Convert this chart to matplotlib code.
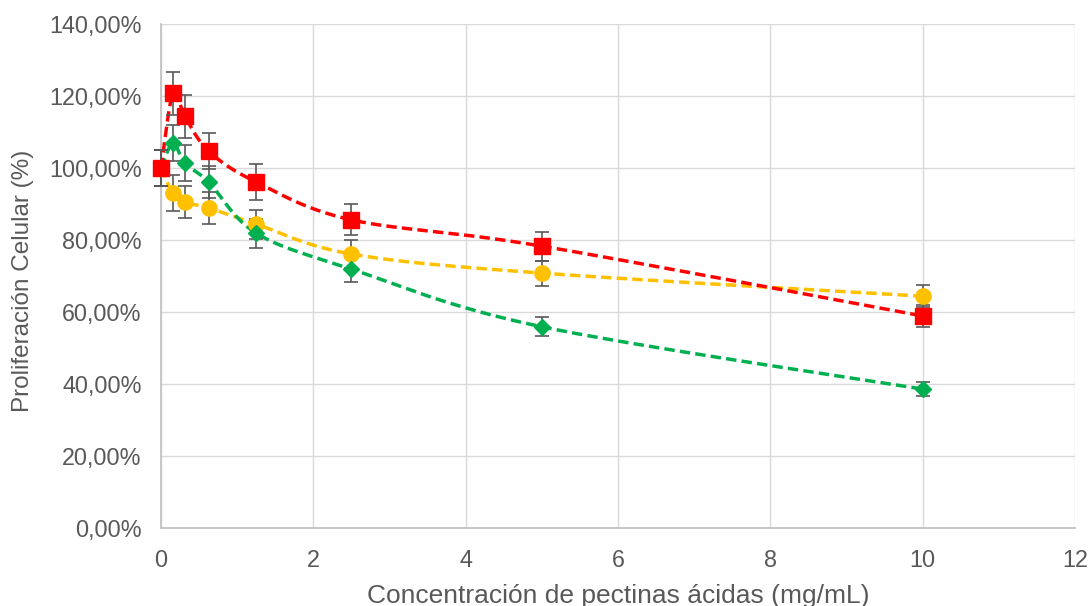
import matplotlib
matplotlib.use("Agg")
from matplotlib import pyplot as plt
from matplotlib.ticker import FuncFormatter
import numpy as np

plt.rcParams['font.family'] = ['Liberation Sans', 'DejaVu Sans']

conc = [0, 0.156, 0.3125, 0.625, 1.25, 2.5, 5, 10]

red_vals = [100.0, 120.8, 114.4, 104.7, 96.1, 85.6, 78.3, 58.9]
red_err = [5.0, 6.0, 6.0, 5.0, 5.0, 4.3, 4.0, 3.0]

yellow_vals = [100.0, 93.0, 90.5, 88.9, 84.4, 76.1, 70.8, 64.4]
yellow_err = [5.0, 5.0, 4.5, 4.5, 4.0, 3.8, 3.5, 3.0]

green_vals = [100.0, 106.9, 101.4, 96.1, 81.9, 71.9, 55.9, 38.6]
green_err = [5.0, 5.0, 5.0, 4.5, 4.0, 3.5, 2.7, 2.0]


def smooth(x, y, n=30):
    # bezier segments like excel's "smoothed line" (control points from neighbours / 6)
    x = np.asarray(x, float)
    y = np.asarray(y, float)
    px = np.concatenate([[x[0]], x, [x[-1]]])
    py = np.concatenate([[y[0]], y, [y[-1]]])
    xs, ys = [], []
    t = np.linspace(0, 1, n)
    for i in range(1, len(px) - 2):
        p0 = np.array([px[i], py[i]])
        p3 = np.array([px[i + 1], py[i + 1]])
        c1 = p0 + (p3 - np.array([px[i - 1], py[i - 1]])) / 6
        c2 = p3 - (np.array([px[i + 2], py[i + 2]]) - p0) / 6
        pts = ((1 - t) ** 3)[:, None] * p0 + (3 * (1 - t) ** 2 * t)[:, None] * c1 \
            + (3 * (1 - t) * t ** 2)[:, None] * c2 + (t ** 3)[:, None] * p3
        xs.extend(pts[:, 0])
        ys.extend(pts[:, 1])
    return np.array(xs), np.array(ys)


fig = plt.figure(figsize=(10.91, 6.06), dpi=100)
ax = fig.add_axes([0.1476, 0.1287, 0.8377, 0.8317])

series = [
    (yellow_vals, yellow_err, '#FFC000', 'o', 11),
    (green_vals, green_err, '#00B050', 'D', 8.5),
    (red_vals, red_err, '#FF0000', 's', 11),
]

for vals, err, col, mk, ms in series:
    sx, sy = smooth(conc, vals)
    ax.plot(sx, sy, color=col, lw=2.5, linestyle=(0, (3, 1.5)), zorder=2, clip_on=False)
    eb = ax.errorbar(conc, vals, yerr=err, fmt='none', ecolor='#595959',
                     elinewidth=1.2, capsize=5, capthick=1.2, zorder=3)
    for art in eb.lines[1] + eb.lines[2]:
        art.set_clip_on(False)
    ax.plot(conc, vals, linestyle='none', marker=mk, markersize=ms,
            color=col, markeredgecolor=col, zorder=4, clip_on=False)

ax.set_xlim(0, 12)
ax.set_ylim(0, 140)
ax.set_xticks(range(0, 13, 2))
ax.set_yticks(range(0, 141, 20))
ax.yaxis.set_major_formatter(FuncFormatter(lambda v, p: f"{v:.2f}%".replace('.', ',')))

ax.grid(True, color='#D9D9D9', lw=1)
ax.set_axisbelow(True)
for s in ['top', 'right']:
    ax.spines[s].set_visible(False)
for s in ['left', 'bottom']:
    ax.spines[s].set_color('#BFBFBF')
    ax.spines[s].set_linewidth(1.2)
ax.tick_params(length=0, labelsize=16.8, colors='#595959')
ax.tick_params(axis='x', pad=15)
ax.tick_params(axis='y', pad=14)

ax.set_xlabel('Concentración de pectinas ácidas (mg/mL)', fontsize=19, color='#595959')
ax.xaxis.label.set_va('center')
ax.xaxis.set_label_coords(0.5, -0.135)
ax.set_ylabel('Proliferación Celular (%)', fontsize=17.5, color='#595959')
ax.yaxis.label.set_va('center')
ax.yaxis.set_label_coords(-0.151, 0.49)

fig.savefig('out.png', dpi=100)
